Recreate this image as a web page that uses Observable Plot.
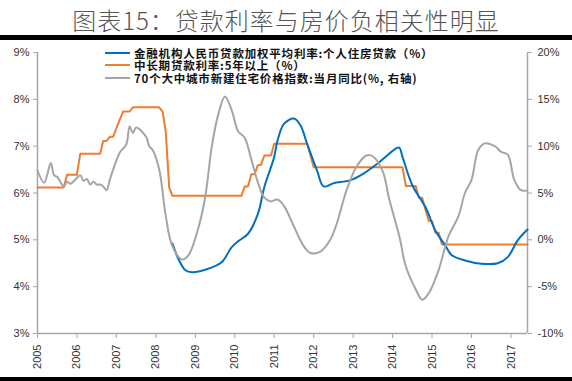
<!DOCTYPE html>
<html><head><meta charset="utf-8">
<script src="https://cdn.jsdelivr.net/npm/d3@7"></script>
<script src="https://cdn.jsdelivr.net/npm/@observablehq/plot@0.6"></script>
<style>
body{margin:0;background:#fff;}
#wrap{position:relative;width:572px;height:381px;overflow:hidden;background:#fff;}
#title{height:35px;box-sizing:border-box;padding-top:8px;text-align:center;font-family:"Noto Sans CJK SC",sans-serif;font-size:24px;font-weight:300;line-height:1;letter-spacing:1px;color:#555;white-space:nowrap;}
.bar{background:#000;}
#legend{position:absolute;left:105px;top:46.5px;font-family:"Noto Sans CJK SC",sans-serif;font-size:11.5px;font-weight:bold;letter-spacing:0.8px;color:#111;}
.row{height:12.5px;white-space:nowrap;display:flex;align-items:center;}
.sw{display:inline-block;width:25px;height:2px;margin-right:4px;}
.lt{display:inline-block;height:12px;line-height:12px;overflow:visible;}
svg{display:block;}
</style></head>
<body>
<div id="wrap">
  <div id="title">图表15：贷款利率与房价负相关性明显</div>
  <div class="bar" style="height:5px"></div>
  <div id="chart"></div>
  <div class="bar" style="height:4px"></div>
  <div id="legend"></div>
</div>
<script>
// ---- data ----
const xStart = "2005-07";
const xEnd = "2017-12";
const xTickDates = ["2005-07","2006-07","2007-07","2008-07","2009-07","2010-07","2011-07","2012-07","2013-07","2014-07","2015-07","2016-07","2017-07"];
const leftTicks = [3,4,5,6,7,8,9];
const rightTicks = [-10,-5,0,5,10,15,20];

const seriesNames = [
  "金融机构人民币贷款加权平均利率:个人住房贷款（%）",
  "中长期贷款利率:5年以上（%）",
  "70个大中城市新建住宅价格指数:当月同比(%, 右轴)"
];
const seriesColors = ["#0070C0", "#ED7D31", "#A5A5A5"];

// 金融机构人民币贷款加权平均利率:个人住房贷款 (left axis, %)
const blueDates = ["2008-12","2009-02","2009-04","2009-06","2009-10","2010-03","2010-06","2010-08","2010-11","2011-02","2011-04","2011-07","2011-08","2011-10","2012-01","2012-03","2012-05","2012-08","2012-10","2013-01","2013-06","2013-10","2014-03","2014-08","2014-09","2014-10","2015-01","2015-05","2015-08","2015-11","2016-01","2016-05","2016-10","2017-03","2017-06","2017-09","2017-12"];
const blueValues = [4.92,4.56,4.35,4.31,4.36,4.52,4.84,4.97,5.13,5.56,6.13,6.77,7.12,7.48,7.59,7.44,7.05,6.48,6.14,6.21,6.27,6.41,6.66,6.95,6.97,6.77,6.16,5.70,5.20,4.88,4.67,4.56,4.49,4.50,4.63,4.99,5.22];

// 中长期贷款利率:5年以上 (left axis, %)
const orangeDates = ["2005-07","2006-03","2006-04","2006-07","2006-08","2007-02","2007-03","2007-04","2007-05","2007-06","2007-07","2007-08","2007-09","2007-11","2007-12","2008-08","2008-09","2008-10","2008-11","2008-12","2010-09","2010-10","2010-11","2010-12","2011-01","2011-02","2011-03","2011-04","2011-06","2011-07","2012-05","2012-06","2012-07","2014-10","2014-11","2015-02","2015-03","2015-04","2015-05","2015-06","2015-07","2015-08","2015-09","2015-10","2017-12"];
const orangeValues = [6.12,6.12,6.39,6.39,6.84,6.84,7.11,7.11,7.20,7.20,7.38,7.56,7.74,7.74,7.83,7.83,7.74,7.29,6.12,5.94,5.94,6.14,6.14,6.40,6.40,6.60,6.60,6.80,6.80,7.05,7.05,6.80,6.55,6.55,6.15,6.15,5.90,5.90,5.65,5.40,5.40,5.15,5.15,4.90,4.90];

// 70个大中城市新建住宅价格指数:当月同比 (right axis, %)
const grayDates = ["2005-07","2005-09","2005-11","2005-12","2006-01","2006-03","2006-04","2006-05","2006-07","2006-08","2006-09","2006-10","2006-11","2006-12","2007-01","2007-02","2007-03","2007-04","2007-05","2007-06","2007-08","2007-10","2007-11","2007-12","2008-01","2008-04","2008-05","2008-06","2008-08","2008-10","2008-12","2009-03","2009-05","2009-08","2009-10","2009-12","2010-02","2010-04","2010-06","2010-08","2010-10","2010-12","2011-02","2011-04","2011-06","2011-08","2011-10","2012-01","2012-04","2012-06","2012-09","2012-12","2013-02","2013-05","2013-08","2013-11","2014-01","2014-04","2014-06","2014-09","2014-11","2015-02","2015-04","2015-06","2015-09","2015-12","2016-03","2016-05","2016-07","2016-09","2016-11","2017-02","2017-04","2017-06","2017-08","2017-10","2017-12"];
const grayValues = [7.4,6.1,8.2,6.9,6.7,5.7,6.2,6.0,6.6,6.9,6.3,6.5,5.9,6.2,5.9,5.9,5.7,5.3,6.4,7.5,9.3,10.2,12.1,11.4,12.0,11.0,10.0,9.6,7.5,2.5,-0.7,-2.1,-1.6,1.4,4.6,10.0,13.5,15.3,13.9,11.6,10.9,8.6,6.1,4.5,4.1,4.3,3.6,1.4,-0.7,-1.4,-1.25,0,1.8,5.3,7.8,9.0,8.9,7.3,4.3,0.4,-2.85,-5.3,-6.4,-5.7,-3.2,0.4,2.5,5.0,6.4,9.6,10.3,10.0,9.4,9.1,6.4,5.3,5.3];

// ---- build ----
const parse = d3.utcParse("%Y-%m");
const toLeft = v => 3 + (v + 10) / 5;
const fromLeft = d => Math.round((d - 3) * 5 - 10);
const blue = blueDates.map((d, i) => ({date: parse(d), v: blueValues[i]}));
const orange = orangeDates.map((d, i) => ({date: parse(d), v: orangeValues[i]}));
const gray = grayDates.map((d, i) => ({date: parse(d), v: grayValues[i]}));
const axisColor = "#A6A6A6";

const chart = Plot.plot({
  width: 572, height: 337,
  marginTop: 12, marginBottom: 44, marginLeft: 37, marginRight: 45,
  style: {fontFamily: "Liberation Sans, sans-serif", fontSize: "11px", color: "#333", background: "transparent"},
  x: {type: "utc", domain: [parse(xStart), parse(xEnd)]},
  y: {domain: [3, 9]},
  marks: [
    Plot.ruleY([3], {stroke: axisColor, strokeWidth: 1.5}),
    Plot.ruleX([parse(xStart), parse(xEnd)], {y1: 3, y2: 9, stroke: axisColor, strokeWidth: 1.5}),
    Plot.axisY({anchor: "left", ticks: leftTicks, tickFormat: d => d + "%", tickSize: 4, tickPadding: 4, stroke: axisColor, fill: "#333", label: null}),
    Plot.axisY({anchor: "right", ticks: rightTicks.map(toLeft), tickFormat: d => fromLeft(d) + "%", tickSize: 4, tickPadding: 6, stroke: axisColor, fill: "#333", label: null}),
    Plot.axisX({ticks: xTickDates.map(parse), tickFormat: d3.utcFormat("%Y"), tickRotate: -90, tickSize: 5, tickPadding: 6, stroke: axisColor, fill: "#333", label: null}),
    Plot.line(orange, {x: "date", y: "v", stroke: seriesColors[1], strokeWidth: 2}),
    Plot.line(blue, {x: "date", y: "v", stroke: seriesColors[0], strokeWidth: 2, curve: "catmull-rom"}),
    Plot.line(gray, {x: "date", y: d => toLeft(d.v), stroke: seriesColors[2], strokeWidth: 2, curve: "catmull-rom"})
  ]
});
document.getElementById("chart").appendChild(chart);

const legend = document.getElementById("legend");
seriesNames.forEach((name, i) => {
  const row = document.createElement("div");
  row.className = "row";
  const sw = document.createElement("span");
  sw.className = "sw";
  sw.style.background = seriesColors[i];
  const t = document.createElement("span");
  t.className = "lt";
  t.textContent = name;
  row.appendChild(sw);
  row.appendChild(t);
  legend.appendChild(row);
});
</script>
</body></html>
